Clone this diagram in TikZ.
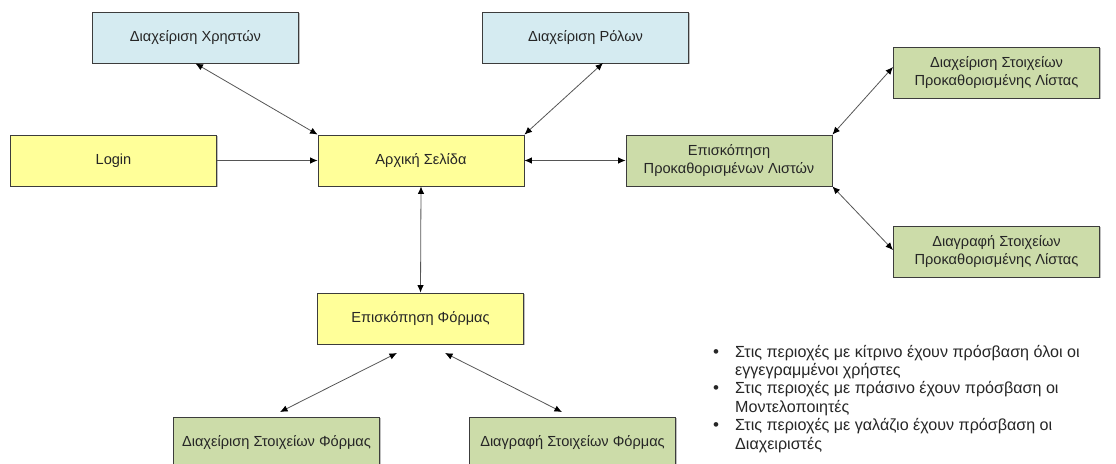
\documentclass[tikz,border=0pt]{standalone}
\usepackage{fontspec}
\setmainfont{Liberation Sans}
\usetikzlibrary{arrows.meta,shadows}

\definecolor{boxyellow}{HTML}{FFFF99}
\definecolor{boxblue}{HTML}{D5EBF1}
\definecolor{boxgreen}{HTML}{CCDCA9}
\definecolor{boxedge}{HTML}{3C3C3C}
\definecolor{linkgray}{HTML}{555555}

\begin{document}
\begin{tikzpicture}[x=1pt,y=-1pt,
  box/.style={draw=boxedge, line width=0.9pt, minimum width=206pt,
    minimum height=51pt, inner sep=0pt, align=center,
    font=\fontsize{14.6}{17.8}\selectfont, text=black!85,
    drop shadow={shadow xshift=1.2pt, shadow yshift=-1.2pt,
      fill=black!25, opacity=1}},
  yellowbox/.style={box, fill=boxyellow},
  bluebox/.style={box, fill=boxblue},
  greenbox/.style={box, fill=boxgreen},
  link/.style={draw=linkgray, line width=0.8pt, {Latex[length=7.5pt,width=6.5pt,color=black]}-{Latex[length=7.5pt,width=6.5pt,color=black]}},
  onelink/.style={draw=linkgray, line width=0.8pt, -{Latex[length=7.5pt,width=6.5pt,color=black]}},
  noteline/.style={anchor=base west, inner sep=0pt, font=\fontsize{16.1}{18.4}\selectfont, text=black!85},
  dot/.style={anchor=base, inner sep=0pt, font=\fontsize{17}{18.4}\selectfont, text=black!85}]

\useasboundingbox (0,0) rectangle (1116,463);

% main pages
\node[bluebox]   (users)   at (195.5,37.5)  {Διαχείριση Χρηστών};
\node[bluebox]   (roles)   at (585.5,37.5)  {Διαχείριση Ρόλων};
\node[yellowbox] (login)   at (113.5,160.5) {Login};
\node[yellowbox] (home)    at (421,160.5)   {Αρχική Σελίδα};
\node[greenbox]  (lists)   at (729,160.5)   {Επισκόπηση\\Προκαθορισμένων Λιστών};
\node[greenbox]  (listman) at (996.5,72.5)  {Διαχείριση Στοιχείων\\Προκαθορισμένης Λίστας};
\node[greenbox]  (listdel) at (996.5,251.5) {Διαγραφή Στοιχείων\\Προκαθορισμένης Λίστας};
\node[yellowbox] (form)    at (420.5,318.5) {Επισκόπηση Φόρμας};
\node[greenbox]  (formman) at (276.5,442.5) {Διαχείριση Στοιχείων Φόρμας};
\node[greenbox]  (formdel) at (572.5,442.5) {Διαγραφή Στοιχείων Φόρμας};

% loose connector ends
\coordinate (rolesend)  at (603,63);
\coordinate (manin)     at (893,67);
\coordinate (delin)     at (893,250);
\coordinate (formleft)  at (397,353);
\coordinate (formright) at (445,353);
\coordinate (manout)    at (280,412);
\coordinate (delout)    at (562,412);

% connectors
\draw[link] (users.south) -- (home.north west);
\draw[link] (rolesend) -- (home.north east);
\draw[onelink] (login.east) -- (home.west);
\draw[link] (home.east) -- (lists.west);
\draw[link] (home.south) -- (form.north);
\draw[link] (lists.north east) -- (manin);
\draw[link] (lists.south east) -- (delin);
\draw[link] (formleft) -- (manout);
\draw[link] (formright) -- (delout);

% access notes
\node[dot] (b1) at (716,357) {•};
\node[noteline] (n1a) at (735,357)   {Στις περιοχές με κίτρινο έχουν πρόσβαση όλοι οι};
\node[noteline] (n1b) at (735,375.4) {εγγεγραμμένοι χρήστες};
\node[dot] (b2) at (716,393.8) {•};
\node[noteline] (n2a) at (735,393.8) {Στις περιοχές με πράσινο έχουν πρόσβαση οι};
\node[noteline] (n2b) at (735,412.2) {Μοντελοποιητές};
\node[dot] (b3) at (716,430.6) {•};
\node[noteline] (n3a) at (735,430.6) {Στις περιοχές με γαλάζιο έχουν πρόσβαση οι};
\node[noteline] (n3b) at (735,449)   {Διαχειριστές};
\end{tikzpicture}
\end{document}
